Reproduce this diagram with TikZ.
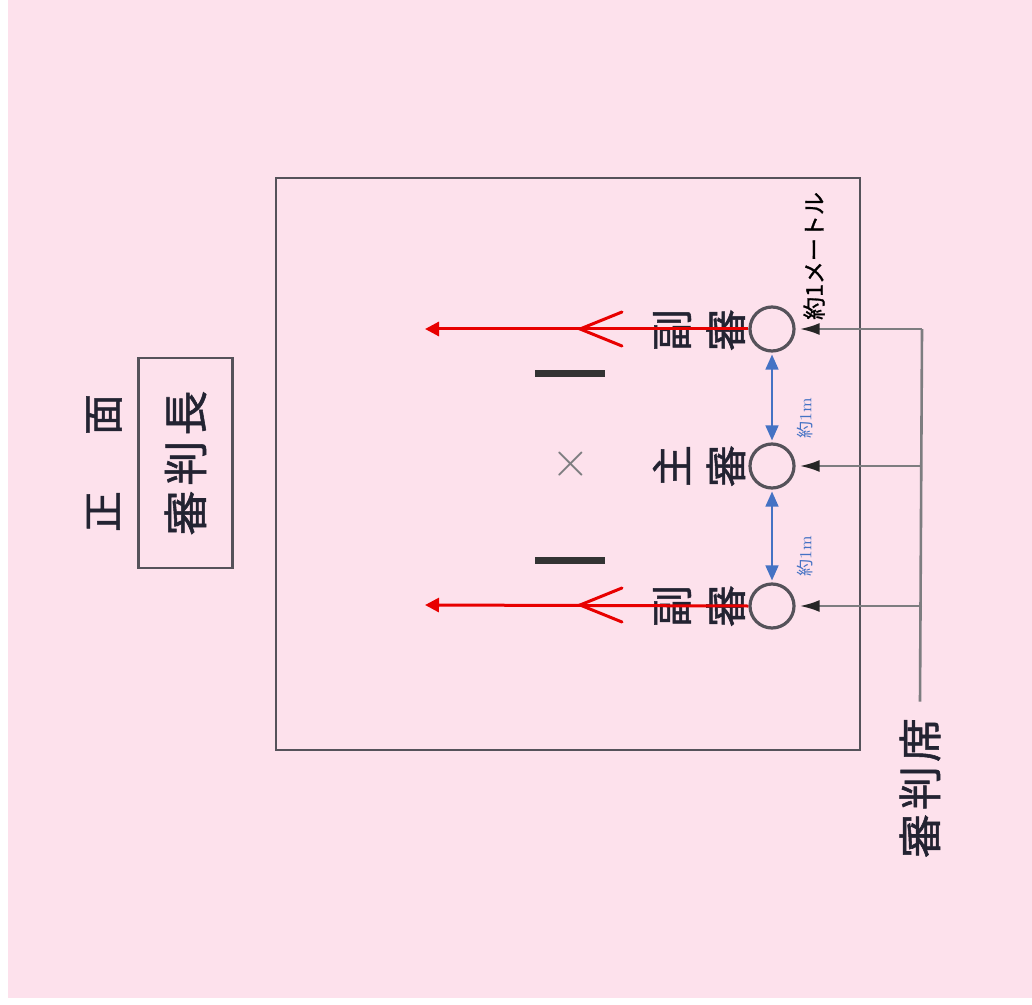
\documentclass[tikz,border=0pt]{standalone}
\usepackage{fontspec}
\newfontfamily\jp{Noto Sans CJK JP}
\newfontfamily\jpb{Noto Sans CJK JP}[FakeBold=1.2]
\usetikzlibrary{arrows.meta}
\definecolor{bgpink}{RGB}{253,225,236}
\definecolor{linegray}{RGB}{125,125,128}
\definecolor{boxgray}{RGB}{85,82,90}
\definecolor{jblue}{RGB}{68,114,196}
\definecolor{txt}{RGB}{35,35,50}
\definecolor{redline}{RGB}{232,0,0}
\begin{document}
\begin{tikzpicture}[x=0.5pt,y=-0.5pt,
  jtext/.style={text=txt, inner sep=0pt, rotate=90},
  judge/.style={circle, draw=boxgray, line width=1.6pt, minimum size=22pt, inner sep=0pt},
  feed/.style={draw=linegray, line width=1.3pt},
  feedarrow/.style={feed, -{Latex[length=10pt,width=6pt,color=black!85]}, shorten >=2pt},
  moveline/.style={draw=redline, line width=1.5pt},
  movearrow/.style={moveline, -{Triangle[length=7pt,width=7pt]}},
  distarrow/.style={draw=jblue, line width=0.8pt, {Triangle[length=7.5pt,width=6.5pt]}-{Triangle[length=7.5pt,width=6.5pt]}, shorten <=1pt, shorten >=1pt},
  bar/.style={draw=black!80, line width=3.5pt}
]
\useasboundingbox (0,0) rectangle (1032,1005);
\fill[white] (0,0) rectangle (1032,1005);
\fill[bgpink] (8,0) rectangle (1032,998);

% court
\draw[boxgray, line width=1.1pt] (276,178) rectangle (860,750);

% front / chief judge
\node[jtext, font=\jpb\fontsize{20.5}{20.5}\selectfont] (front) at (104,463) {正\hspace{28pt}面};
\node[jtext, draw=boxgray, line width=1.2pt, minimum width=105pt, minimum height=47pt,
      font=\jpb\fontsize{22.5}{22.5}\selectfont] (chief) at (185.5,463) {審\hspace{2.5pt}判\hspace{2.5pt}長};

% judges
\node[judge] (j1) at (772,329) {};
\node[judge] (j0) at (772,466) {};
\node[judge] (j2) at (772,606) {};
\node[jtext, align=center, font=\jpb\fontsize{21}{27}\selectfont] (l1) at (699,330) {副\\審};
\node[jtext, align=center, font=\jpb\fontsize{21}{27}\selectfont] (l0) at (699,466) {主\\審};
\node[jtext, align=center, font=\jpb\fontsize{21}{27}\selectfont] (l2) at (699,606) {副\\審};

% competitors marks
\draw[bar] (535,373) -- (605,373);
\draw[bar] (535,560) -- (605,560);
\node[text=linegray, inner sep=0pt, font=\fontsize{26}{26}\selectfont] (cross) at (571,464) {$\times$};

% red movement arrows
\coordinate (r1) at (425,329);
\coordinate (r2) at (425,605);
\coordinate (c1) at (580,329);
\coordinate (c2) at (580,605);
\draw[movearrow] (j1.west) -- (r1);
\draw[movearrow] (j2.west) -- (r2);
\draw[moveline, line cap=round] (c1) ++(42,-17) -- (c1) -- +(42,17);
\draw[moveline, line cap=round] (c2) ++(42,-17) -- (c2) -- +(42,17);

% blue distances
\draw[distarrow] (j1.south) -- (j0.north);
\draw[distarrow] (j0.south) -- (j2.north);
\node[jtext, text=jblue, font=\fontsize{8.5}{8.5}\selectfont] (d1) at (805,418) {{\jp 約}1m};
\node[jtext, text=jblue, font=\fontsize{8.5}{8.5}\selectfont] (d2) at (805,556) {{\jp 約}1m};
\node[jtext, text=black, font=\jpb\fontsize{11.5}{11.5}\selectfont] (d3) at (814,256) {約1メートル};

% judges' seat
\node[jtext, font=\jpb\fontsize{22}{22}\selectfont, inner sep=8pt] (seat) at (920,788) {審\hspace{2pt}判\hspace{2pt}席};
\coordinate (b1) at (922,329);
\coordinate (b0) at (922,466);
\coordinate (b2) at (922,606);
\draw[feed] (seat.east) -- (b1);
\draw[feedarrow] (b1) -- (j1.east);
\draw[feedarrow] (b0) -- (j0.east);
\draw[feedarrow] (b2) -- (j2.east);
\end{tikzpicture}
\end{document}
